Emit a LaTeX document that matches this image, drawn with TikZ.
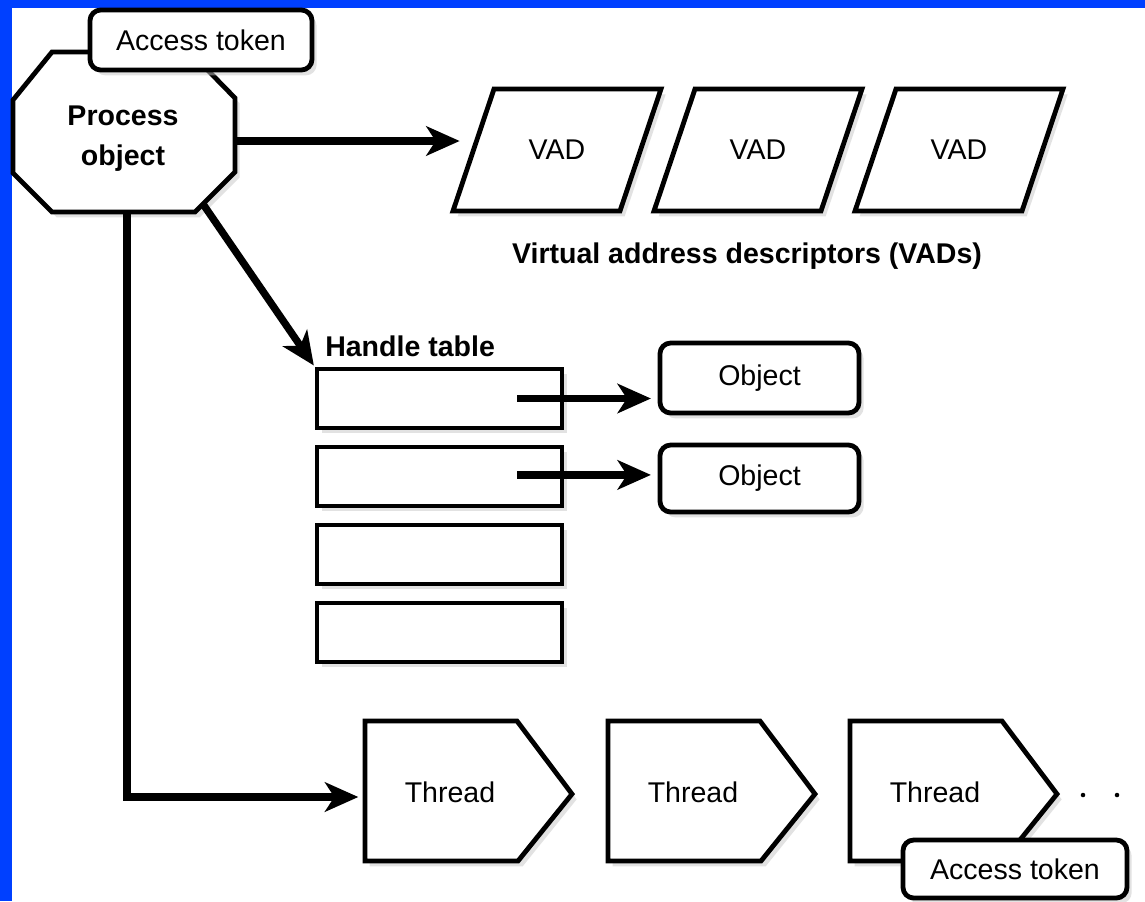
\documentclass[tikz,border=0pt]{standalone}
\usepackage{fontspec}
\setmainfont{Liberation Sans}
\usetikzlibrary{arrows.meta,shadows}
\definecolor{frameblue}{RGB}{0,64,255}
\begin{document}
\begin{tikzpicture}[x=0.75pt,y=-0.75pt,
  every node/.style={font=\fontsize{21.4pt}{26pt}\selectfont, inner sep=0pt},
  shade/.style={drop shadow={shadow xshift=3.5pt,shadow yshift=-4pt,fill=black!22}},
  outline/.style={draw=black, line width=3.6pt, fill=white, line join=miter, shade},
  rowbox/.style={outline, minimum width=183.75pt, minimum height=44.25pt},
  tokenbox/.style={outline, rounded corners=8pt, minimum height=44pt},
  objbox/.style={outline, rounded corners=8pt, minimum width=149.25pt},
  link/.style={line width=5.5pt, line join=miter, -{Stealth[length=25pt,width=22pt,inset=7pt]}},
  heading/.style={font=\fontsize{21.4pt}{26pt}\selectfont\bfseries},
]
\useasboundingbox (0,0) rectangle (1145,901);
% frame
\fill[frameblue] (0,0) rectangle (1145,901);
\fill[white] (12,8) rectangle (1145,901);

% process object (octagon)
\draw[outline] (52,52) -- (190,52) -- (235,98) -- (235,172) -- (195,212)
  -- (52,212) -- (13,173) -- (13,100) -- cycle;
\node[heading, align=center, font=\fontsize{21.4pt}{30pt}\selectfont\bfseries] (proc) at (123,139) {Process\\object};
\coordinate (procE) at (235,141);
\coordinate (procSE) at (203,204);
\coordinate (procS) at (127,212);

% access token of the process
\node[tokenbox, minimum width=166.5pt, minimum height=45pt] (tok1) at (201,40) {Access token};

% virtual address descriptors
\foreach \i/\L in {1/494,2/695,3/896} {
  \draw[outline] (\L-41,211) -- (\L,89) -- (\L+167,89) -- (\L+126,211) -- cycle;
  \node (vad\i) at (\L+63,150) {VAD};
}
\coordinate (vad1W) at (477,141);
\node[heading] (vadlabel) at (747,256) {Virtual address descriptors (VADs)};

% handle table
\node[heading, anchor=west] (htlabel) at (325,346) {Handle table};
\foreach \i/\Y in {1/398.5,2/476.5,3/554.5,4/632.5} {
  \node[rowbox] (row\i) at (439.5,\Y) {};
}

% objects
\node[objbox, minimum height=52.5pt] (obj1) at (759.5,378) {Object};
\node[objbox, minimum height=50.25pt] (obj2) at (759.5,478.5) {Object};

% threads
\foreach \i/\L in {1/365,2/608,3/850} {
  \draw[outline] (\L,721) -- (\L+152,721) -- (\L+207,794) -- (\L+153,861)
    -- (\L,861) -- cycle;
  \node (thread\i) at (\L+85,792) {Thread};
}
\coordinate (thr1W) at (365,797);

% access token of a thread
\node[tokenbox, minimum width=168pt, minimum height=43.5pt] (tok2) at (1015,869) {Access token};

% continuation dots
\fill (1083,795) circle (1.7pt);
\fill (1117,795) circle (1.7pt);

% connectors
\draw[link, shorten >=13pt] (procE) -- (vad1W);
\draw[link, shorten >=1pt] (procSE) -- (row1.north west);
\draw[link, shorten >=5pt] (procS) |- (thr1W);
\coordinate (h1) at ([xshift=-35.25pt]row1.east);
\coordinate (h2) at ([xshift=-35.25pt,yshift=1.2pt]row2.east);
\draw[link, shorten >=5pt] (h1) -- (h1 -| obj1.west);
\draw[link, shorten >=5pt] (h2) -- (h2 -| obj2.west);
\end{tikzpicture}
\end{document}
